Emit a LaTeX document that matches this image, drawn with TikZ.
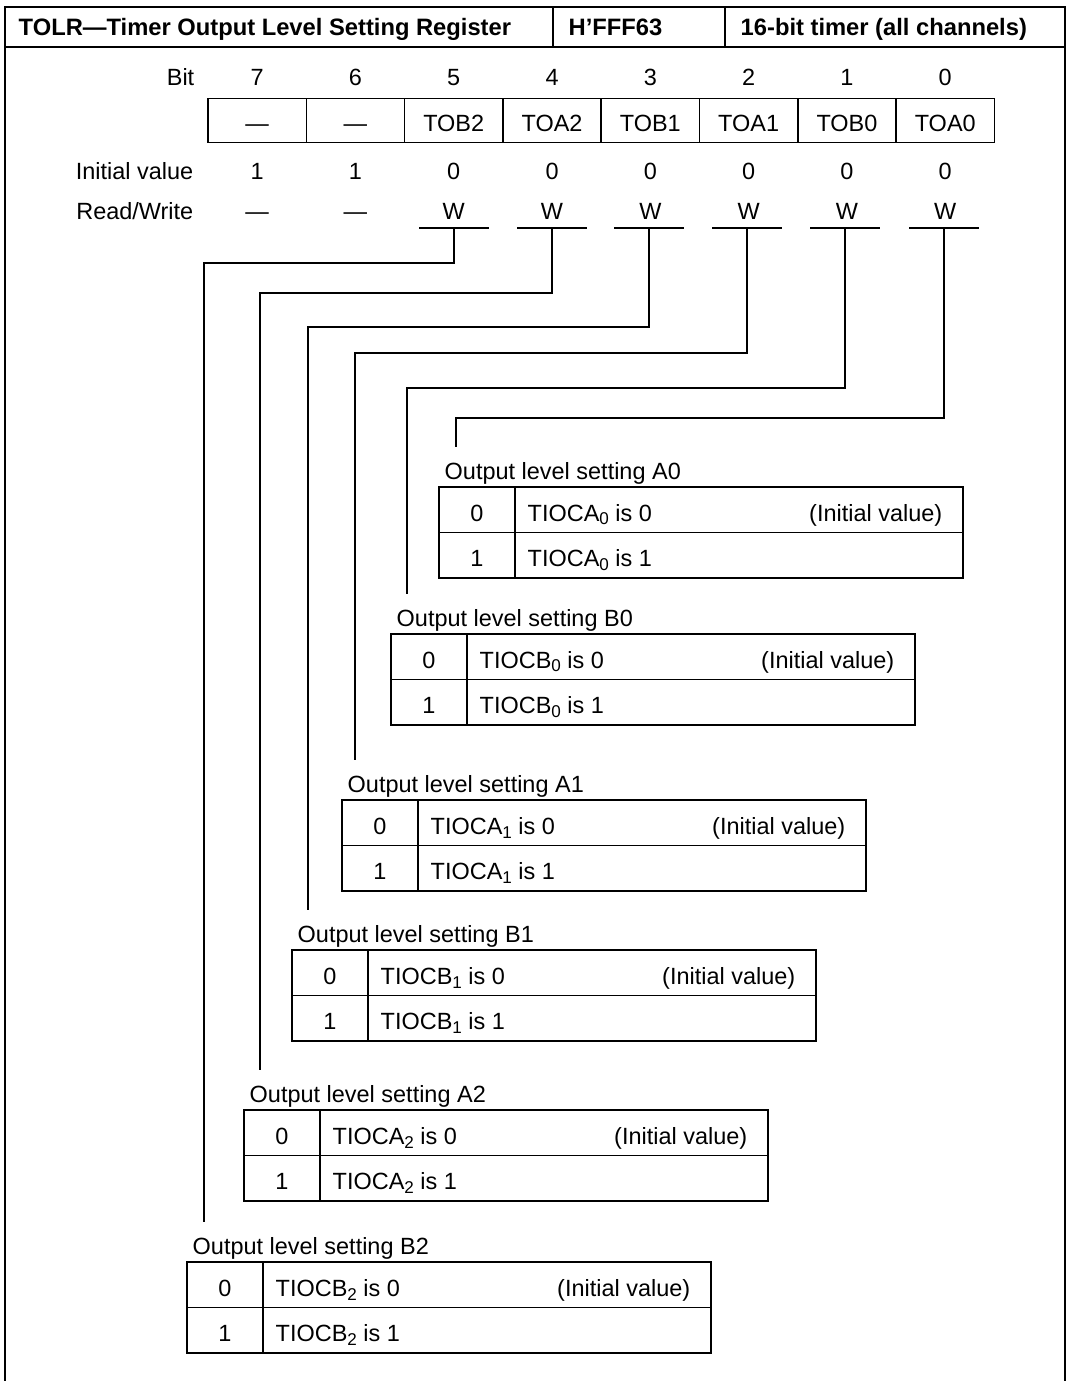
\documentclass[tikz,border=0pt]{standalone}
\usepackage{fontspec}
\setmainfont{Liberation Sans}
\newcommand\sbs[1]{\raisebox{-0.17em}{\fontsize{12.8}{13}\selectfont #1}}
\begin{document}
\begin{tikzpicture}[x=0.75pt,y=-0.75pt,
  line width=1.1pt,
  font=\fontsize{17.6}{20}\selectfont,
  txt/.style={inner sep=0pt},
  ctext/.style={txt,anchor=base},
  ltext/.style={txt,anchor=base west},
  rtext/.style={txt,anchor=base east},
  regcell/.style={draw,inner sep=0pt,minimum width=73.7pt,minimum height=33pt},
  tcell/.style={draw,inner sep=0pt,minimum height=34pt},
  hdr/.style={txt,anchor=base west,font=\fontsize{17.8}{20}\selectfont\bfseries},
  wire/.style={line width=1.1pt}]
\useasboundingbox (0,0) rectangle (1067,1381);
% frame
\draw (5,1381) -- (5,7) -- (1065,7) -- (1065,1381);
\draw (5,47) -- (1065,47);
\draw (553,7) -- (553,47);
\draw (725,7) -- (725,47);
\node[hdr] (h1) at (18,35.5) {TOLR---Timer Output Level Setting Register};
\node[hdr] (h2) at (568,35.5) {H’FFF63};
\node[hdr] (h3) at (740,35.5) {16-bit timer (all channels)};
% row labels
\node[rtext] (lbit) at (195,85.4) {Bit};
\node[rtext] (linit) at (194,179.4) {Initial value};
\node[rtext] (lrw) at (194,219.8) {Read/Write};
% register
\foreach \i/\bit/\nm/\iv/\rw in {0/7/---/1/---,1/6/---/1/---,2/5/TOB2/0/W,3/4/TOA2/0/W,4/3/TOB1/0/W,5/2/TOA1/0/W,6/1/TOB0/0/W,7/0/TOA0/0/W}{
  \pgfmathsetmacro\cx{257.15+98.3*\i}
  \node[ctext] (b\bit) at (\cx,85.4) {\bit};
  \node[regcell] (r\bit) at (\cx,120.5) {};
  \node[ctext] (rt\bit) at (\cx,131.5) {\nm};
  \node[ctext] (iv\bit) at (\cx,179.4) {\iv};
  \node[ctext] (rw\bit) at (\cx,219.8) {\rw};
}
% bars under W
\foreach \bit/\cx in {5/454,4/552,3/649,2/747,1/845,0/944}{
  \draw (\cx-35,228) -- (\cx+35,228);
  \coordinate (bar\bit) at (\cx,228);
}
% tables and connectors
\foreach \n/\L/\T/\sig/\sub/\lx/\hy/\bit in {
  A0/439/487/TIOCA/0/456/418/0,
  B0/391/634/TIOCB/0/407/388/1,
  A1/342/800/TIOCA/1/355/353/2,
  B1/292/950/TIOCB/1/308/327/3,
  A2/244/1110/TIOCA/2/260/293/4,
  B2/187/1262/TIOCB/2/204/263/5}{
  \node[ltext] (lab\n) at (\L+5,\T-7.6) {Output level setting \n};
  \node[tcell,minimum width=57pt] (k\n a) at (\L+38,\T+22.75) {};
  \node[tcell,minimum width=57pt] (k\n b) at (\L+38,\T+68.25) {};
  \node[tcell,minimum width=336pt] (d\n a) at (\L+300,\T+22.75) {};
  \node[tcell,minimum width=336pt] (d\n b) at (\L+300,\T+68.25) {};
  \node[ctext] (v\n a) at (\L+38,\T+34) {0};
  \node[ctext] (v\n b) at (\L+38,\T+79.5) {1};
  \node[ltext] (s\n a) at (\L+88,\T+34) {\sig\sbs{\sub} is 0};
  \node[rtext] (i\n a) at (\L+504,\T+34) {(Initial value)};
  \node[ltext] (s\n b) at (\L+88,\T+79.5) {\sig\sbs{\sub} is 1};
  \coordinate (e\n) at (\lx,\T-40);
  \draw[wire] (bar\bit) |- (\lx,\hy) -- (e\n);
}
\end{tikzpicture}
\end{document}
